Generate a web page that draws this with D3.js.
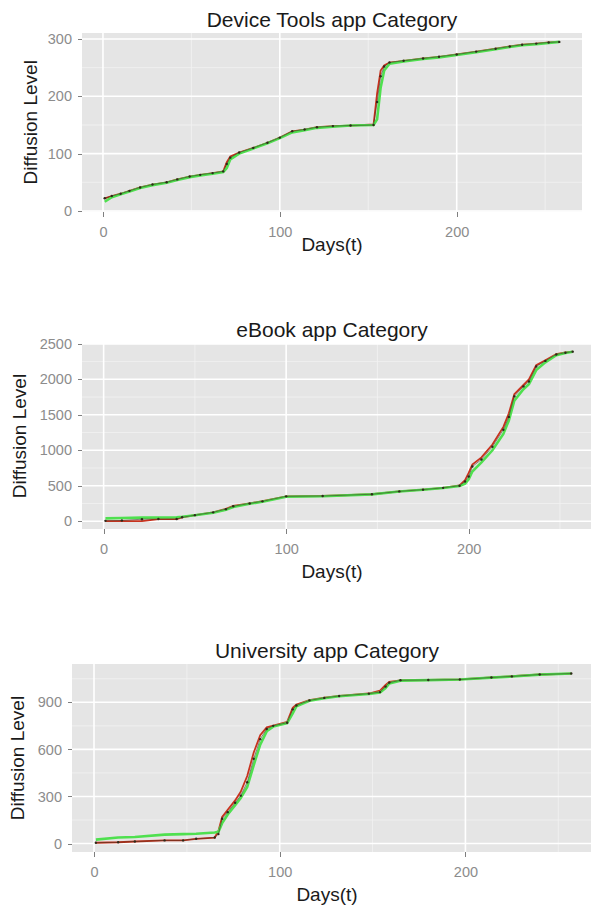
<html lang="en">

<head>
    <meta charset="utf-8">
    <title>Diffusion Level by app Category</title>
    <style>
        body {
            margin: 0;
            background: white;
        }

        svg {
            display: block;
        }

        .axis path {
            display: none;
        }

        .axis line {
            stroke: #7f7f7f;
            shape-rendering: crispEdges;
        }

        .axis text {
            font-family: "Liberation Sans", Arial, sans-serif;
            font-size: 14.5px;
            fill: #8c8c8c;
        }

        .title {
            font-family: "Liberation Sans", Arial, sans-serif;
            font-size: 21px;
            fill: #1a1a1a;
        }

        .axis-title {
            font-family: "Liberation Sans", Arial, sans-serif;
            font-size: 19px;
            fill: #1a1a1a;
        }
    </style>
</head>

<body>
    <script src="https://d3js.org/d3.v7.min.js"></script>

    <div id="chart"></div>

    <script type="text/javascript">
        // Device Tools app Category
        var deviceDays = [1, 5, 10, 15, 21, 28, 36, 42, 49, 55, 62, 68, 70, 72, 77, 85, 93, 100, 107, 114, 121, 130, 140, 153, 155, 157, 159, 162, 170, 181, 190, 200, 211, 222, 230, 237, 245, 252, 258];
        var deviceObserved = [22, 26, 30, 35, 41, 46, 50, 55, 60, 63, 66, 69, 82, 93, 102, 110, 119, 128, 139, 142, 146, 148, 149, 150, 190, 235, 252, 259, 262, 266, 269, 273, 278, 283, 287, 290, 292, 294, 295];
        var deviceRed = [22, 26, 30, 35, 41, 46, 50, 55, 60, 63, 66, 69, 85, 95, 102, 110, 119, 128, 139, 142, 146, 148, 149, 151, 205, 245, 254, 259, 262, 266, 269, 273, 278, 283, 287, 290, 292, 294, 295];
        var deviceGreen = [16, 24, 29, 34, 40, 45, 49, 54, 59, 62, 65, 68, 75, 90, 100, 109, 118, 127, 137, 141, 145, 147, 149, 150, 160, 215, 245, 257, 261, 265, 268, 272, 277, 282, 286, 289, 291, 293, 295];
        var deviceYTicks = [0, 100, 200, 300];

        // eBook app Category
        var ebookDays = [1, 10, 21, 30, 40, 43, 50, 60, 67, 71, 80, 87, 100, 120, 147, 162, 175, 186, 195, 198, 200, 202, 207, 213, 219, 222, 225, 230, 233, 237, 242, 248, 253, 257];
        var ebookObserved = [5, 10, 28, 30, 30, 55, 85, 125, 170, 210, 250, 280, 350, 355, 380, 420, 445, 470, 500, 560, 630, 770, 870, 1050, 1290, 1470, 1760, 1900, 1970, 2180, 2260, 2350, 2375, 2390];
        var ebookRed = [0, 0, 2, 28, 30, 55, 85, 125, 175, 215, 252, 282, 350, 355, 380, 420, 445, 470, 505, 580, 680, 800, 900, 1080, 1330, 1520, 1790, 1920, 2000, 2200, 2270, 2355, 2380, 2390];
        var ebookGreen = [40, 45, 50, 52, 55, 62, 85, 120, 160, 200, 245, 275, 345, 352, 378, 418, 443, 468, 495, 530, 590, 700, 830, 1000, 1230, 1420, 1700, 1860, 1930, 2130, 2240, 2340, 2370, 2390];
        var ebookYTicks = [0, 500, 1000, 1500, 2000, 2500];

        // University app Category
        var uniDays = [1, 13, 22, 38, 48, 55, 65, 67, 69, 72, 76, 79, 82.5, 86, 89.5, 93, 96.5, 104, 107, 109, 116, 124, 132, 148, 154, 157, 159, 165, 180, 197, 214, 225, 240, 257];
        var uniObserved = [5, 8, 13, 20, 20, 30, 38, 60, 158, 200, 260, 305, 390, 540, 665, 730, 750, 770, 855, 880, 912, 928, 940, 955, 965, 1000, 1025, 1040, 1042, 1045, 1058, 1065, 1077, 1083];
        var uniRed = [5, 8, 13, 20, 20, 30, 38, 80, 170, 215, 275, 330, 430, 580, 690, 740, 752, 775, 865, 885, 914, 930, 941, 956, 975, 1010, 1030, 1040, 1042, 1046, 1058, 1066, 1077, 1083];
        var uniGreen = [25, 38, 42, 57, 60, 62, 70, 75, 130, 185, 245, 290, 360, 500, 630, 715, 745, 768, 830, 875, 910, 926, 938, 953, 962, 990, 1020, 1038, 1041, 1045, 1057, 1064, 1076, 1083];
        var uniYTicks = [0, 300, 600, 900];

        var xTicks = [0, 100, 200];
        var xDomain = [-11.85, 270.85];

        var width = 591;
        var height = 913;

        var svg = d3.select("#chart").append("svg")
            .attr("width", width)
            .attr("height", height);

        // layout of each panel (pixels)
        var panels = [{
            title: "Device Tools app Category",
            days: deviceDays, observed: deviceObserved, red: deviceRed, green: deviceGreen,
            yTicks: deviceYTicks, yDomain: [-1, 310.5],
            left: 82, right: 582, top: 33, bottom: 211.5,
            titleY: 27, xTitleY: 251, yTitleX: 30
        }, {
            title: "eBook app Category",
            days: ebookDays, observed: ebookObserved, red: ebookRed, green: ebookGreen,
            yTicks: ebookYTicks, yDomain: [-110, 2512],
            left: 82, right: 598, top: 343, bottom: 529,
            titleY: 337, xTitleY: 578, yTitleX: 19
        }, {
            title: "University app Category",
            days: uniDays, observed: uniObserved, red: uniRed, green: uniGreen,
            yTicks: uniYTicks, yDomain: [-54, 1144],
            left: 72, right: 597, top: 664, bottom: 852,
            titleY: 658, xTitleY: 901, yTitleX: 17.5
        }];

        panels.forEach(function(p, i) {
            draw_panel(p, i);
        });

        function draw_panel(p, i) {
            var xScale = d3.scaleLinear().domain(xDomain).range([p.left, p.right]);
            var yScale = d3.scaleLinear().domain(p.yDomain).range([p.bottom, p.top]);

            var g = svg.append("g");

            g.append("rect")
                .attr("x", p.left)
                .attr("y", p.top)
                .attr("width", p.right - p.left)
                .attr("height", p.bottom - p.top)
                .style("fill", "#e5e5e5");

            // minor grid
            var yStep = p.yTicks[1] - p.yTicks[0];
            var yMinor = p.yTicks.map(function(t) { return t + yStep / 2; })
                .filter(function(t) { return t < p.yDomain[1]; });
            var xMinor = [50, 150, 250];

            g.selectAll(".ymin").data(yMinor).enter().append("line")
                .attr("x1", p.left).attr("x2", p.right)
                .attr("y1", function(d) { return yScale(d); })
                .attr("y2", function(d) { return yScale(d); })
                .style("stroke", "#f2f2f2").style("stroke-width", 0.8);

            g.selectAll(".xmin").data(xMinor).enter().append("line")
                .attr("y1", p.top).attr("y2", p.bottom)
                .attr("x1", function(d) { return xScale(d); })
                .attr("x2", function(d) { return xScale(d); })
                .style("stroke", "#f2f2f2").style("stroke-width", 0.8);

            // major grid
            g.selectAll(".ymaj").data(p.yTicks).enter().append("line")
                .attr("x1", p.left).attr("x2", p.right)
                .attr("y1", function(d) { return yScale(d); })
                .attr("y2", function(d) { return yScale(d); })
                .style("stroke", "white").style("stroke-width", 1.6);

            g.selectAll(".xmaj").data(xTicks).enter().append("line")
                .attr("y1", p.top).attr("y2", p.bottom)
                .attr("x1", function(d) { return xScale(d); })
                .attr("x2", function(d) { return xScale(d); })
                .style("stroke", "white").style("stroke-width", 1.6);

            svg.append("clipPath").attr("id", "clip" + i)
                .append("rect")
                .attr("x", p.left).attr("y", p.top)
                .attr("width", p.right - p.left).attr("height", p.bottom - p.top);

            var lines = g.append("g").attr("clip-path", "url(#clip" + i + ")");

            function lineFor(vals) {
                return d3.line()
                    .x(function(d, k) { return xScale(p.days[k]); })
                    .y(function(d) { return yScale(d); })(vals);
            }

            // red under green, observed on top
            lines.append("path").attr("d", lineFor(p.red))
                .style("fill", "none").style("stroke", "#c8321e").style("stroke-width", 1.8);
            lines.append("path").attr("d", lineFor(p.green))
                .style("fill", "none").style("stroke", "#4fe04f").style("stroke-width", 2.6);
            lines.append("path").attr("d", lineFor(p.observed))
                .style("fill", "none").style("stroke", "#3d3320").style("stroke-width", 0.7)
                .style("opacity", 0.8);

            lines.selectAll("circle").data(p.observed).enter().append("circle")
                .attr("cx", function(d, k) { return xScale(p.days[k]); })
                .attr("cy", function(d) { return yScale(d); })
                .attr("r", 1.2)
                .style("fill", "#2e2a1a");

            // axes
            g.append("g")
                .attr("class", "axis")
                .attr("transform", "translate(" + p.left + ",0)")
                .call(d3.axisLeft(yScale).tickValues(p.yTicks).tickFormat(d3.format("d"))
                    .tickSize(4).tickPadding(6));

            g.append("g")
                .attr("class", "axis")
                .attr("transform", "translate(0," + p.bottom + ")")
                .call(d3.axisBottom(xScale).tickValues(xTicks).tickSize(5).tickPadding(10));

            // titles
            g.append("text")
                .attr("class", "title")
                .attr("x", (p.left + Math.min(p.right, 582)) / 2)
                .attr("y", p.titleY)
                .attr("text-anchor", "middle")
                .text(p.title);

            g.append("text")
                .attr("class", "axis-title")
                .attr("x", (p.left + Math.min(p.right, 582)) / 2)
                .attr("y", p.xTitleY)
                .attr("text-anchor", "middle")
                .text("Days(t)");

            g.append("text")
                .attr("class", "axis-title")
                .attr("transform", "translate(" + p.yTitleX + "," + (p.top + p.bottom) / 2 + ") rotate(-90)")
                .attr("text-anchor", "middle")
                .attr("dy", "0.35em")
                .text("Diffusion Level");
        }
    </script>
</body>

</html>
